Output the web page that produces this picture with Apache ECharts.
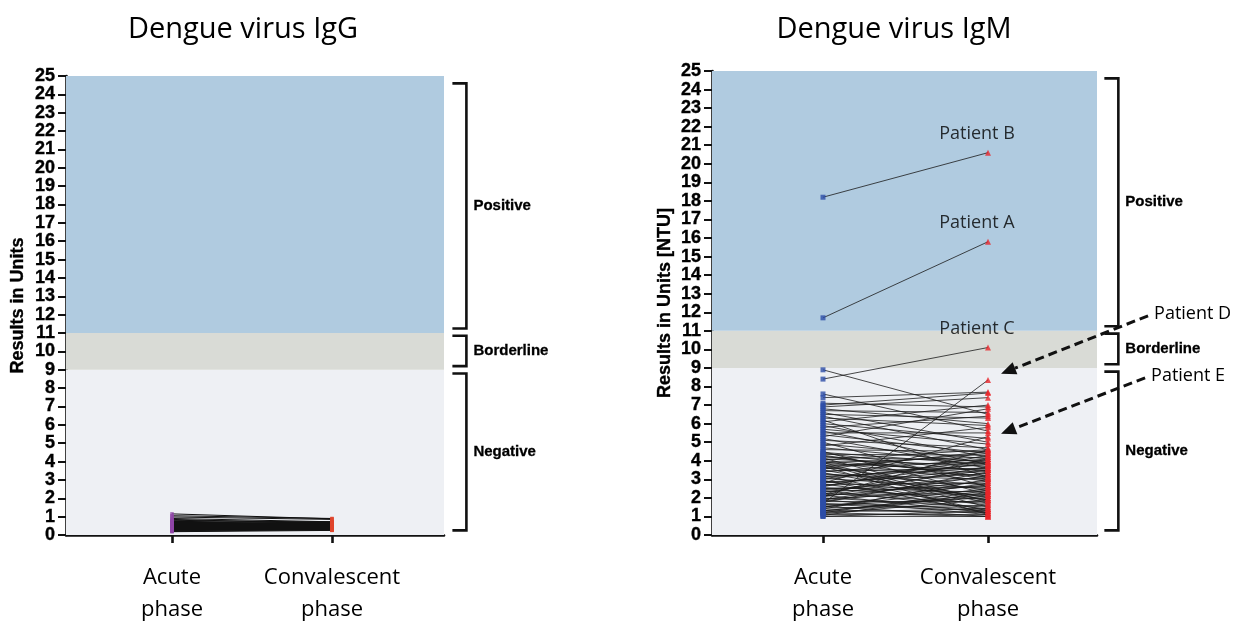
<!DOCTYPE html>
<html><head><meta charset="utf-8">
<script src="https://cdn.jsdelivr.net/npm/echarts@6/dist/echarts.min.js"></script>
<style>html,body{margin:0;padding:0;background:#fff}#c{width:1234px;height:626px}</style>
</head><body><div id="c"></div>
<script>
// ---------------- DATA ----------------
const phaseLabels = ['Acute\nphase', 'Convalescent\nphase'];
const phaseX = [1, 2];
const titles = ['Dengue virus IgG', 'Dengue virus IgM'];
const yAxisNames = ['Results in Units', 'Results in Units [NTU]'];

// interpretation bands (units)
const bandNames = ['Negative', 'Borderline', 'Positive'];
const bandLower = [0, 9, 11];
const bandUpper = [9, 11, 25];
// bracket extents for the band annotation
const bracketLow = [0.25, 9.2, 11.25];
const bracketHigh = [8.8, 10.85, 24.6];

// IgG: paired values (acute -> convalescent)
const iggAcute = [1.15,1.05,0.98,0.9,0.85,0.8,0.76,0.74,0.72,0.7,0.68,0.66,0.64,0.62,0.6,0.58,0.56,0.55,0.53,0.52,0.5,0.49,0.47,0.46,0.45,0.43,0.42,0.41,0.4,0.38,0.37,0.36,0.35,0.34,0.33,0.32,0.31,0.3,0.29,0.28,0.27,0.25,0.22,0.2,0.18];
const iggConv  = [0.88,0.9,0.85,0.72,0.62,0.7,0.5,0.66,0.4,0.6,0.72,0.45,0.55,0.35,0.68,0.5,0.3,0.62,0.42,0.58,0.36,0.7,0.48,0.32,0.55,0.4,0.64,0.28,0.52,0.44,0.6,0.34,0.47,0.3,0.56,0.38,0.27,0.5,0.42,0.33,0.6,0.29,0.4,0.3,0.25];

// IgM: paired values (acute -> convalescent)
const igmAcute = [18.2,11.7,8.4,1.7,2.8,8.9,7.6,7.4,7.0,6.2,
  7.1,6.9,6.8,6.7,6.6,6.5,6.4,6.3,6.1,6.0,5.9,5.8,5.7,5.6,5.5,5.4,5.3,5.2,5.1,5.0,
  4.9,4.8,4.7,4.6,4.5,4.4,4.35,4.3,4.2,4.15,4.1,4.05,4.0,3.95,3.9,3.85,3.8,3.75,3.7,3.65,
  3.6,3.5,3.45,3.4,3.3,3.25,3.2,3.1,3.05,3.0,2.9,2.85,2.75,2.7,2.6,2.55,2.5,2.45,2.4,2.35,
  2.3,2.25,2.2,2.15,2.1,2.05,2.0,1.95,1.9,1.85,1.8,1.75,1.65,1.6,1.55,1.5,1.45,1.4,1.35,1.3,
  1.25,1.2,1.15,1.1,1.05,1.0,1.0,
  4.25,3.55,3.35,3.15,2.95,2.65,2.5,2.2,1.9,1.7,1.5,1.3,3.9,4.45,2.1,1.2,3.7,2.8];
const igmConv = [20.6,15.8,10.1,8.35,5.3,6.5,5.6,7.7,7.65,3.1,
  6.9,7.4,6.0,6.6,5.0,6.3,4.6,5.9,7.0,5.2,4.2,6.4,4.9,3.8,5.5,4.4,6.8,3.6,4.7,2.6,
  4.1,5.8,3.9,4.5,2.2,3.4,4.3,3.0,4.0,1.8,3.7,4.6,3.3,2.9,4.2,3.5,1.5,3.9,2.4,4.4,
  3.2,2.0,3.6,4.1,2.7,3.0,1.3,3.8,2.5,4.0,2.1,3.3,1.6,2.8,4.3,2.3,1.9,3.1,1.4,2.6,
  3.5,1.7,2.2,1.2,2.9,3.7,1.5,2.4,1.1,2.7,1.8,3.4,1.3,2.0,1.0,2.5,1.6,3.0,1.2,2.1,
  1.4,1.0,1.9,1.1,2.3,1.3,1.0,
  3.1,4.5,1.9,3.6,1.2,3.9,2.6,4.1,3.2,1.4,2.8,2.2,1.7,3.8,4.6,2.4,1.1,3.5];
const igmNames = ['Patient B','Patient A','Patient C'];   // first three pairs

// arrow annotations on the IgM panel (data coordinates)
const arrowLabels = ['Patient D', 'Patient E'];
const arrowFrom = [[2.97, 11.81], [2.952, 8.47]];
const arrowTo   = [[2.079, 8.69], [2.079, 5.46]];

// ---------------- CHART ----------------
const bandColors = ['#eef0f4', '#d9dbd6', '#b0cbe0'];
const chart = echarts.init(document.getElementById('c'), null, {renderer: 'canvas'});
const bold = {fontFamily: 'Liberation Sans', fontWeight: 'bold', color: '#000', textBorderColor: '#000', textBorderWidth: 0.35};

function xAxisDef(idx, min, max) {
  return {
    type: 'value', gridIndex: idx, min: min, max: max,
    splitLine: {show: false},
    axisLine: {lineStyle: {color: '#111', width: 2.6}},
    axisTick: {show: true, customValues: phaseX, length: 8, lineStyle: {color: '#111', width: 2.6}},
    axisLabel: {customValues: phaseX, formatter: v => phaseLabels[phaseX.indexOf(v)],
      fontFamily: 'Open Sans', fontSize: 22, lineHeight: 32, color: '#000', margin: 27}
  };
}
function yAxisDef(idx, gap) {
  return {
    type: 'value', gridIndex: idx, min: 0, max: 25, interval: 1,
    name: yAxisNames[idx], nameLocation: 'middle', nameGap: gap,
    nameTextStyle: Object.assign({fontSize: 18}, bold),
    splitLine: {show: false},
    axisLine: {show: true, lineStyle: {color: '#111', width: 2.6}},
    axisTick: {show: true, length: 8, lineStyle: {color: '#111', width: 2}},
    axisLabel: Object.assign({fontSize: 18, margin: 11}, bold)
  };
}

function pairLines(acute, conv, idx, color, width) {
  return acute.map((a, i) => ({
    type: 'line', xAxisIndex: idx, yAxisIndex: idx, silent: true, animation: false,
    symbol: 'none', z: 2, data: [[phaseX[0], a], [phaseX[1], conv[i]]],
    lineStyle: {color: color, width: width}
  }));
}
function bandArea() {
  return {silent: true, label: {show: false}, z: 1,
    data: bandLower.map((lo, i) => [{yAxis: lo, itemStyle: {color: bandColors[i]}}, {yAxis: bandUpper[i]}])};
}
function bracketSeries(idx, bx) {
  return {
    type: 'custom', xAxisIndex: idx, yAxisIndex: idx, silent: true, z: 5, clip: false, animation: false,
    data: bracketLow.map((lo, i) => [bx, lo, bracketHigh[i], i]),
    encode: {x: 0, y: [1, 2]},
    renderItem: (params, api) => {
      const x = api.value(0);
      const top = api.coord([x, api.value(2)]);
      const bot = api.coord([x, api.value(1)]);
      return {type: 'group', children: [
        {type: 'polyline', shape: {points: [[top[0] - 14, top[1]], [top[0], top[1]], [bot[0], bot[1]], [bot[0] - 14, bot[1]]]},
          style: {stroke: '#111', lineWidth: 2.6, fill: null}},
        {type: 'text', x: top[0] + 7, y: (top[1] + bot[1]) / 2,
          style: {text: bandNames[api.value(3)], fontFamily: 'Liberation Sans', fontWeight: 'bold', fontSize: 15,
            fill: '#000', stroke: '#000', lineWidth: 0.3, align: 'left', verticalAlign: 'middle'}}
      ]};
    }
  };
}

const series = [];
// ---- IgG panel
series.push(...pairLines(iggAcute, iggConv, 0, '#111', 1));
series.push({type: 'scatter', xAxisIndex: 0, yAxisIndex: 0, silent: true, animation: false, z: 3,
  symbol: 'rect', symbolSize: [3.5, 3.5], itemStyle: {color: '#9046a8'},
  data: iggAcute.map(v => [phaseX[0], v]), markArea: bandArea()});
series.push({type: 'scatter', xAxisIndex: 0, yAxisIndex: 0, silent: true, animation: false, z: 3,
  symbol: 'rect', symbolSize: [3.5, 3.5], itemStyle: {color: '#e0452c'},
  data: iggConv.map(v => [phaseX[1], v])});
series.push(bracketSeries(0, 2.84));

// ---- IgM panel
series.push(...pairLines(igmAcute, igmConv, 1, '#1a1a1a', 0.8));
series.push({type: 'scatter', xAxisIndex: 1, yAxisIndex: 1, silent: true, animation: false, z: 3,
  symbol: 'rect', symbolSize: 5, itemStyle: {color: '#2d4ea8'},
  data: igmAcute.map(v => [phaseX[0], v]), markArea: bandArea()});
series.push({type: 'scatter', xAxisIndex: 1, yAxisIndex: 1, silent: true, animation: false, z: 3,
  symbol: 'triangle', symbolSize: 6, itemStyle: {color: '#e8262a'},
  data: igmConv.map((v, i) => ({
    value: [phaseX[1], v],
    label: igmNames[i] ? {show: true, formatter: igmNames[i], position: 'top', offset: [-11, -2],
      fontFamily: 'Open Sans', fontSize: 18, color: '#000'} : {show: false}
  }))});
series.push(bracketSeries(1, 2.79));
series.push({
  type: 'custom', xAxisIndex: 1, yAxisIndex: 1, silent: true, z: 6, clip: false, animation: false,
  data: arrowFrom.map((f, i) => [f[0], f[1], arrowTo[i][0], arrowTo[i][1], i]),
  encode: {x: [0, 2], y: [1, 3]},
  renderItem: (params, api) => {
    const s = api.coord([api.value(0), api.value(1)]);
    const t = api.coord([api.value(2), api.value(3)]);
    const dx = t[0] - s[0], dy = t[1] - s[1];
    const len = Math.sqrt(dx * dx + dy * dy);
    const ux = dx / len, uy = dy / len;
    const hl = 15, hw = 6.5;
    const b = [t[0] - ux * hl, t[1] - uy * hl];
    return {type: 'group', children: [
      {type: 'line', shape: {x1: s[0], y1: s[1], x2: b[0], y2: b[1]},
        style: {stroke: '#111', lineWidth: 3, lineDash: [9, 5]}},
      {type: 'polygon', shape: {points: [t, [b[0] - uy * hw, b[1] + ux * hw], [b[0] + uy * hw, b[1] - ux * hw]]},
        style: {fill: '#111'}},
      {type: 'text', x: s[0] + 6, y: s[1] - 2,
        style: {text: arrowLabels[api.value(4)], fontFamily: 'Open Sans', fontSize: 18, fill: '#000',
          align: 'left', verticalAlign: 'middle'}}
    ]};
  }
});

chart.setOption({
  animation: false,
  backgroundColor: '#ffffff',
  grid: [
    {left: 66, top: 76, width: 378, height: 464},
    {left: 712, top: 71, width: 385, height: 472}
  ],
  xAxis: [xAxisDef(0, 0.3375, 2.7), xAxisDef(1, 0.3273, 2.6606)],
  yAxis: [yAxisDef(0, 39), yAxisDef(1, 38)],
  graphic: [
    {type: 'text', x: 243, y: 30, style: {text: titles[0], fontFamily: 'Open Sans', fontSize: 29, fill: '#000', align: 'center', verticalAlign: 'middle'}},
    {type: 'text', x: 894, y: 30, style: {text: titles[1], fontFamily: 'Open Sans', fontSize: 29, fill: '#000', align: 'center', verticalAlign: 'middle'}}
  ],
  series: series
});
</script></body></html>
